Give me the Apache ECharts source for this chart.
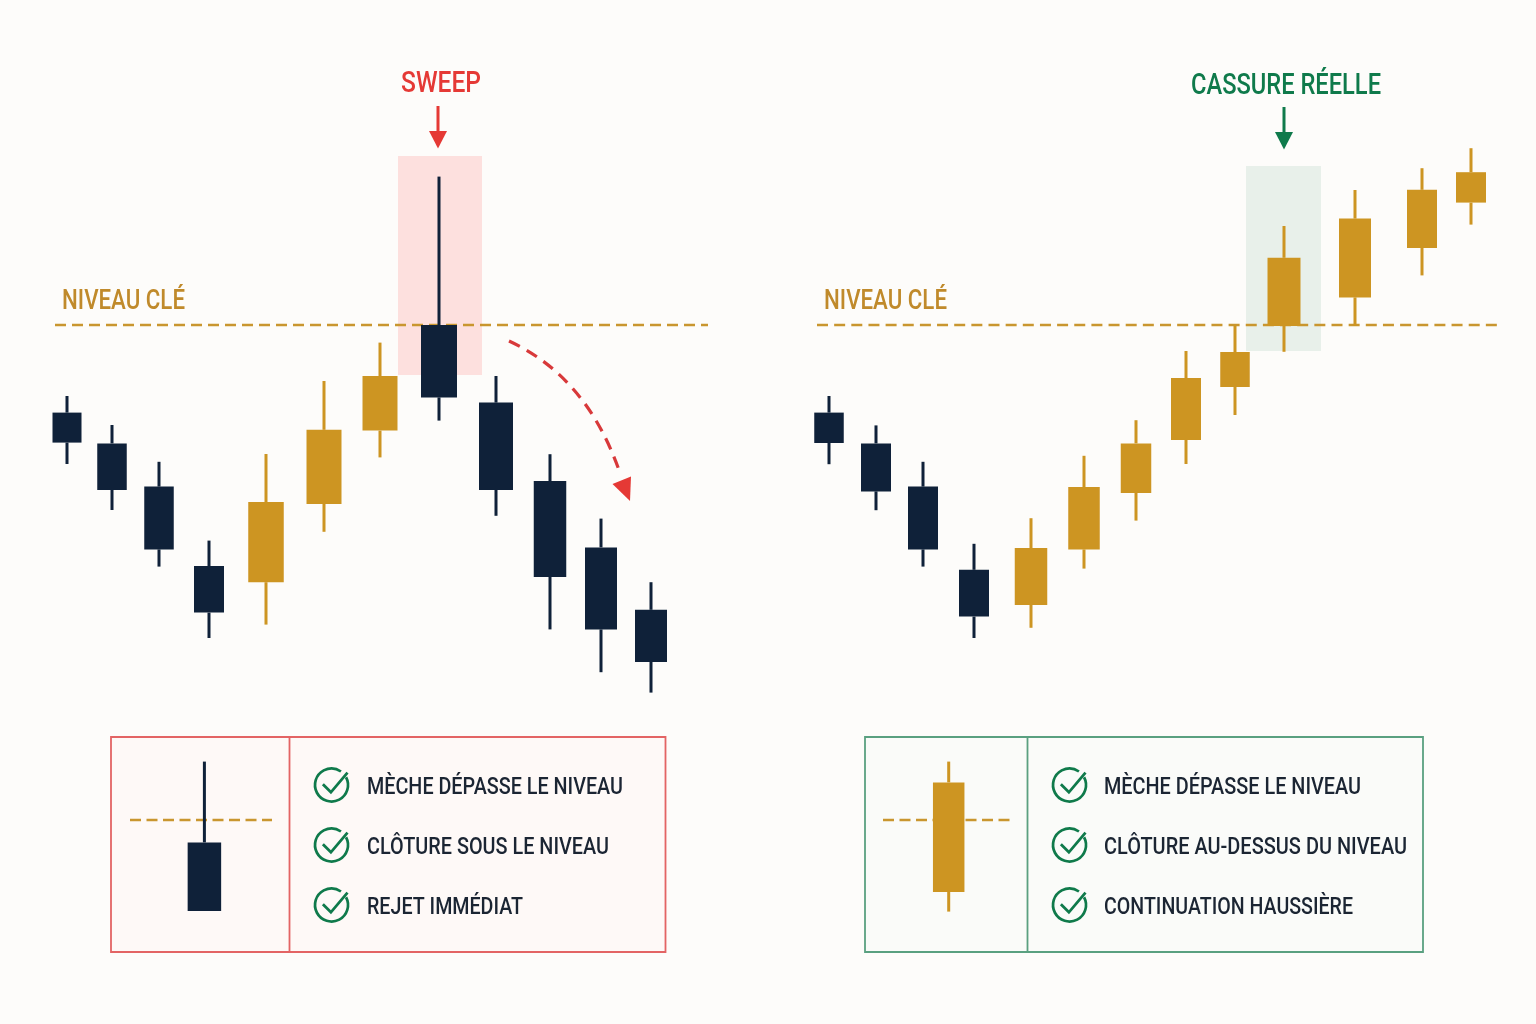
<!DOCTYPE html>
<html>
<head>
<meta charset="utf-8">
<title>Sweep vs cassure réelle</title>
<script src="https://cdn.jsdelivr.net/npm/echarts@6/dist/echarts.min.js"></script>
<style>
  html, body { margin: 0; padding: 0; background: #fdfcfa; }
  #main { width: 1536px; height: 1024px; }
</style>
</head>
<body>
<div id="main"></div>
<script>
// data: price level is 100, time is in arbitrary session units
var keyLevel = 100;

var sweepTime  = [1.2, 5.7, 10.4, 15.4, 21.1, 26.9, 32.5, 38.4, 44.1, 49.5, 54.6, 59.6];
var sweepOpen  = [78.1, 70.4, 59.6, 39.75, 35.7, 55.25, 73.6, 100, 80.6, 61, 44.4, 28.8];
var sweepClose = [70.6, 58.75, 43.9, 28.1, 55.75, 73.8, 87.25, 81.9, 58.75, 37, 23.9, 15.75];
var sweepLow   = [65.25, 53.75, 39.6, 21.75, 25.1, 48.3, 66.9, 76.1, 52.3, 23.9, 13.2, 8.1];
var sweepHigh  = [82.25, 75, 65.8, 46.1, 67.75, 86, 95.6, 137.1, 87.25, 67.7, 51.6, 35.7];

var breakTime  = [1.2, 5.9, 10.6, 15.7, 21.4, 26.7, 31.9, 36.9, 41.8, 46.7, 53.8, 60.5, 65.4];
var breakOpen  = [78.1, 70.4, 59.6, 38.8, 30, 43.9, 58, 71.25, 84.5, 99.75, 106.9, 119.25, 130.6];
var breakClose = [70.5, 58.4, 43.9, 27.1, 44.25, 59.5, 70.4, 86.75, 93.25, 116.8, 126.6, 133.8, 138.2];
var breakLow   = [65.2, 53.7, 39.6, 21.75, 24.3, 39.1, 51.1, 65.25, 77.5, 93.3, 99.8, 112.4, 125.1];
var breakHigh  = [82.25, 74.9, 65.8, 45.3, 51.7, 67.3, 76.2, 93.5, 99.8, 124.75, 133.75, 139.2, 144.2];

// the two single candles of the panels: [time, open, close, low, high]
var sweepSample = [7.44, 94.4, 77.25, 77.25, 114.6];
var breakSample = [6.57, 82, 109.4, 77.1, 114.6];

var sweepRules = ['MÈCHE DÉPASSE LE NIVEAU', 'CLÔTURE SOUS LE NIVEAU', 'REJET IMMÉDIAT'];
var breakRules = ['MÈCHE DÉPASSE LE NIVEAU', 'CLÔTURE AU-DESSUS DU NIVEAU', 'CONTINUATION HAUSSIÈRE'];

// colours and sizes
var NAVY = '#0f2139', GOLD = '#cd9522', DASH = '#c9962f', LABEL_GOLD = '#c08a2b';
var RED = '#e53935', GREEN = '#0f7a4b', INK = '#1b2533';
var sweepWidths = [29, 29.5, 29.5, 30, 35.5, 35, 35, 36, 34, 32.5, 32, 32];
var breakWidths = [29.5, 30, 30, 30, 32.5, 31.5, 30.5, 30, 29.5, 33, 32, 30, 30];
var FONT = 'Roboto';

function table(time, open, close, low, high) {
  return time.map(function (t, i) {
    return [t, open[i], close[i], low[i], high[i]];
  });
}

// custom candle so each body can have its own width
function candleSeries(index, data, widths) {
  return {
    type: 'custom',
    xAxisIndex: index,
    yAxisIndex: index,
    z: 4,
    silent: true,
    encode: { x: 0, y: [1, 2, 3, 4] },
    data: data,
    renderItem: function (params, api) {
      var t = api.value(0), o = api.value(1), c = api.value(2);
      var top = api.coord([t, Math.max(o, c)]);
      var bottom = api.coord([t, Math.min(o, c)]);
      var low = api.coord([t, api.value(3)]);
      var high = api.coord([t, api.value(4)]);
      var w = widths[params.dataIndex];
      var color = c >= o ? GOLD : NAVY;
      var wick = { stroke: color, lineWidth: 3 };
      return {
        type: 'group',
        children: [
          { type: 'line', shape: { x1: high[0], y1: high[1], x2: top[0], y2: top[1] }, style: wick },
          { type: 'line', shape: { x1: bottom[0], y1: bottom[1], x2: low[0], y2: low[1] }, style: wick },
          { type: 'rect', shape: { x: top[0] - w / 2, y: top[1], width: w, height: bottom[1] - top[1] }, style: { fill: color } }
        ]
      };
    }
  };
}

function levelSeries(index, xMax, dash, zone, zoneColor) {
  var s = {
    type: 'line',
    xAxisIndex: index,
    yAxisIndex: index,
    z: 3,
    silent: true,
    symbol: 'none',
    data: [[0, keyLevel], [xMax, keyLevel]],
    lineStyle: { color: DASH, width: 2.5, type: dash }
  };
  if (zone) {
    s.markArea = {
      silent: true,
      itemStyle: { color: zoneColor },
      data: [[{ xAxis: zone[0], yAxis: zone[3] }, { xAxis: zone[1], yAxis: zone[2] }]]
    };
  }
  return s;
}

function axisX(index, max) {
  return { type: 'value', gridIndex: index, min: 0, max: max, show: false };
}
function axisY(index, min, max) {
  return { type: 'value', gridIndex: index, min: min, max: max, show: false, scale: true };
}

// text stretched to the width it has in the reference
var measure = document.createElement('canvas').getContext('2d');
function label(text, x, y, w, size, color, weight) {
  var font = (weight || 400) + ' ' + size + 'px ' + FONT;
  measure.font = font;
  return {
    type: 'text',
    x: x,
    y: y,
    scaleX: w / measure.measureText(text).width,
    z: 10,
    style: { text: text, font: font, fill: color, textAlign: 'left', textVerticalAlign: 'middle' }
  };
}

function downArrow(x, y1, y2, tip, color) {
  return [
    { type: 'line', z: 10, shape: { x1: x, y1: y1, x2: x, y2: y2 }, style: { stroke: color, lineWidth: 3 } },
    { type: 'polygon', z: 10, shape: { points: [[x - 9, y2], [x + 9, y2], [x, tip]] }, style: { fill: color } }
  ];
}

function checkIcon(cx, cy) {
  var d = Math.PI / 180;
  return [
    {
      type: 'arc', z: 10,
      shape: { cx: cx, cy: cy, r: 16.5, startAngle: -28 * d, endAngle: 305 * d, clockwise: true },
      style: { stroke: GREEN, lineWidth: 2.7, fill: 'none' }
    },
    {
      type: 'polyline', z: 10,
      shape: { points: [[cx - 8.6, cy - 0.7], [cx - 0.6, cy + 7.3], [cx + 16, cy - 12.3]] },
      style: { stroke: GREEN, lineWidth: 2.8, fill: 'none' }
    }
  ];
}

function panel(x, width, divider, stroke, fill) {
  return [
    { type: 'rect', z: 0, shape: { x: x, y: 737, width: width, height: 215 }, style: { fill: fill, stroke: stroke, lineWidth: 1.8 } },
    { type: 'line', z: 1, shape: { x1: divider, y1: 737, x2: divider, y2: 952 }, style: { stroke: stroke, lineWidth: 1.8 } }
  ];
}

var ROW_Y = [788, 848, 908];
var sweepTextW = [256, 242, 156];
var breakTextW = [257, 303, 249];

var graphics = [];
graphics = graphics.concat(
  panel(111, 554.5, 289.5, '#e36464', '#fef9f7'),
  panel(865, 558, 1027.5, '#5aa080', '#fafbf9')
);
ROW_Y.forEach(function (y, i) {
  graphics = graphics.concat(checkIcon(331.5, y - 3), checkIcon(1069.5, y - 3));
  graphics.push(label(sweepRules[i], 367, y, sweepTextW[i], 24, INK, 500));
  graphics.push(label(breakRules[i], 1104, y, breakTextW[i], 24, INK, 500));
});
graphics.push(label('SWEEP', 401, 85, 80, 29, RED, 500));
graphics.push(label('CASSURE RÉELLE', 1191, 87, 190, 29, GREEN, 500));
graphics.push(label('NIVEAU CLÉ', 62, 302, 123, 27, LABEL_GOLD, 500));
graphics.push(label('NIVEAU CLÉ', 824, 302, 123, 27, LABEL_GOLD, 500));
graphics = graphics.concat(downArrow(438, 106, 131, 148.5, RED), downArrow(1284, 107, 132, 149.5, GREEN));
// curved dashed arrow after the sweep
graphics.push({
  type: 'bezierCurve', z: 10,
  shape: { x1: 509, y1: 341, cpx1: 587, cpy1: 377, x2: 620, y2: 473 },
  style: { stroke: '#d8393a', lineWidth: 3.2, lineDash: [12, 8], fill: 'none' }
});
graphics.push({
  type: 'polygon', z: 10,
  shape: { points: [[612.5, 484], [631, 476.5], [630, 501]] },
  style: { fill: RED }
});

var myChart = echarts.init(document.getElementById('main'), null, { renderer: 'canvas' });

var option = {
  animation: false,
  backgroundColor: '#fdfcfa',
  tooltip: { show: false },
  grid: [
    { left: 55, top: 125, width: 653, height: 580 },
    { left: 817, top: 125, width: 680, height: 580 },
    { left: 130, top: 740, width: 142, height: 200 },
    { left: 883, top: 740, width: 128, height: 200 }
  ],
  xAxis: [axisX(0, 65.3), axisX(1, 68), axisX(2, 14.2), axisX(3, 12.8)],
  yAxis: [axisY(0, 5, 150), axisY(1, 5, 150), axisY(2, 70, 120), axisY(3, 70, 120)],
  graphic: { elements: graphics },
  series: [
    levelSeries(0, 65.3, [11, 6], [34.3, 42.7, 87.5, 142.25], '#fde0de'),
    levelSeries(1, 68, [11, 6.15], [42.9, 50.4, 93.5, 139.75], '#e8f0ea'),
    levelSeries(2, 14.2, [11, 5.5]),
    levelSeries(3, 12.8, [11, 5.5]),
    candleSeries(0, table(sweepTime, sweepOpen, sweepClose, sweepLow, sweepHigh), sweepWidths),
    candleSeries(1, table(breakTime, breakOpen, breakClose, breakLow, breakHigh), breakWidths),
    candleSeries(2, [sweepSample], [33.5]),
    candleSeries(3, [breakSample], [31.5])
  ]
};

myChart.setOption(option);
</script>
</body>
</html>
